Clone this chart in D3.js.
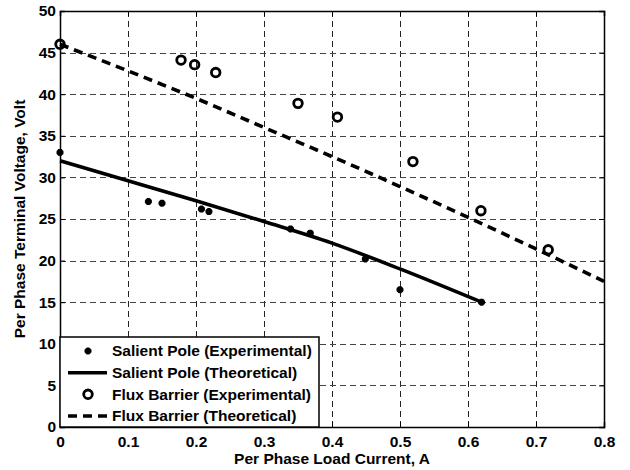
<!DOCTYPE html>
<html><head><meta charset="utf-8">
<script src="https://cdn.jsdelivr.net/npm/d3@7"></script>
<style>body{margin:0;background:#fff}svg{display:block}</style>
</head><body><div id="c"></div>
<script>
const spExpI = [0, 0.13, 0.15, 0.208, 0.219, 0.339, 0.368, 0.449, 0.5, 0.62];
const spExpV = [33.0, 27.1, 26.9, 26.2, 25.9, 23.8, 23.3, 20.2, 16.5, 15.0];
const spThI = [0, 0.1, 0.2, 0.3, 0.4, 0.5, 0.62];
const spThV = [32.0, 29.6, 27.2, 24.7, 22.1, 19.0, 15.0];
const fbExpI = [0, 0.178, 0.198, 0.229, 0.35, 0.408, 0.519, 0.619, 0.718];
const fbExpV = [46.0, 44.1, 43.55, 42.6, 38.9, 37.25, 31.9, 26.0, 21.3];
const fbThI = [0, 0.1, 0.2, 0.3, 0.4, 0.5, 0.6, 0.7, 0.8];
const fbThV = [46.0, 42.8, 39.5, 36.0, 32.5, 28.9, 25.2, 21.4, 17.5];
const xTicks = [0, 0.1, 0.2, 0.3, 0.4, 0.5, 0.6, 0.7, 0.8];
const yTicks = [0, 5, 10, 15, 20, 25, 30, 35, 40, 45, 50];
const legendLabels = ["Salient Pole (Experimental)", "Salient Pole (Theoretical)", "Flux Barrier (Experimental)", "Flux Barrier (Theoretical)"];

const FONT = "'Liberation Sans', Arial, Helvetica, sans-serif";
const W = 630, H = 470;
const L = 60, R = 604, T = 11, B = 427;
const svg = d3.select("#c").append("svg").attr("width", W).attr("height", H);
const x = d3.scaleLinear().domain([0, 0.8]).range([L, R]);
const y = d3.scaleLinear().domain([0, 50]).range([B, T]);

// grid
const g = svg.append("g");
g.selectAll(".vg").data(xTicks.slice(1, -1)).enter().append("line")
  .attr("x1", d => Math.round(x(d)) + 0.5).attr("x2", d => Math.round(x(d)) + 0.5)
  .attr("y1", T).attr("y2", B).attr("stroke", "#222").attr("stroke-width", 1).attr("stroke-dasharray", "6,4");
g.selectAll(".hg").data(yTicks.slice(1, -1)).enter().append("line")
  .attr("y1", d => Math.round(y(d)) + 0.5).attr("y2", d => Math.round(y(d)) + 0.5)
  .attr("x1", L).attr("x2", R).attr("stroke", "#444").attr("stroke-width", 1).attr("stroke-dasharray", "6,4");

// axes
const xa = svg.append("g").attr("transform", `translate(0,${B})`)
  .call(d3.axisBottom(x).tickValues(xTicks).tickSize(-5).tickPadding(9).tickFormat(d => d === 0 ? "0" : d3.format(".1f")(d)));
const xt = svg.append("g").attr("transform", `translate(0,${T})`)
  .call(d3.axisTop(x).tickValues(xTicks).tickSize(-5).tickFormat(""));
const ya = svg.append("g").attr("transform", `translate(${L},0)`)
  .call(d3.axisLeft(y).tickValues(yTicks).tickSize(-5).tickPadding(4));
const yr = svg.append("g").attr("transform", `translate(${R},0)`)
  .call(d3.axisRight(y).tickValues(yTicks).tickSize(-5).tickFormat(""));
[xa, xt, ya, yr].forEach(a => {
  a.select(".domain").attr("stroke", "#000").attr("stroke-width", 1.5);
  a.selectAll(".tick line").attr("stroke", "#000");
  a.selectAll("text").attr("fill", "#000")
    .style("font-family", FONT).style("font-weight", "700").style("font-size", "15.5px");
});

// lines
const line = d3.line().x(d => x(d[0])).y(d => y(d[1])).curve(d3.curveMonotoneX);
svg.append("path").datum(spThI.map((v, i) => [v, spThV[i]])).attr("d", line)
  .attr("fill", "none").attr("stroke", "#000").attr("stroke-width", 3.6);
svg.append("path").datum(fbThI.map((v, i) => [v, fbThV[i]])).attr("d", line)
  .attr("fill", "none").attr("stroke", "#000").attr("stroke-width", 3.6).attr("stroke-dasharray", "9,6");

// markers
function star(sel, cx, cy) {
  const r = 3.5;
  const p = `M${cx - r},${cy}L${cx + r},${cy}M${cx},${cy - r}L${cx},${cy + r}M${cx - r * 0.7},${cy - r * 0.7}L${cx + r * 0.7},${cy + r * 0.7}M${cx - r * 0.7},${cy + r * 0.7}L${cx + r * 0.7},${cy - r * 0.7}`;
  sel.append("path").attr("d", p).attr("stroke", "#000").attr("stroke-width", 2.6).attr("fill", "none");
}
const mk = svg.append("g");
spExpI.forEach((v, i) => star(mk, x(v), y(spExpV[i])));
mk.selectAll(".fb").data(fbExpI.map((v, i) => [v, fbExpV[i]])).enter().append("circle")
  .attr("cx", d => x(d[0])).attr("cy", d => y(d[1])).attr("r", 4.3)
  .attr("fill", "none").attr("stroke", "#000").attr("stroke-width", 2.8);

// legend
const lg = svg.append("g");
lg.append("rect").attr("x", L).attr("y", 337).attr("width", 319 - L).attr("height", B - 337)
  .attr("fill", "#fff").attr("stroke", "#000").attr("stroke-width", 1.5);
const ly = [351, 372.7, 394.3, 416];
star(lg, 88, ly[0]);
lg.append("line").attr("x1", 68).attr("x2", 107).attr("y1", ly[1]).attr("y2", ly[1]).attr("stroke", "#000").attr("stroke-width", 3.6);
lg.append("circle").attr("cx", 88).attr("cy", ly[2]).attr("r", 4.3).attr("fill", "none").attr("stroke", "#000").attr("stroke-width", 2.8);
lg.append("line").attr("x1", 68).attr("x2", 107).attr("y1", ly[3]).attr("y2", ly[3]).attr("stroke", "#000").attr("stroke-width", 3.6).attr("stroke-dasharray", "9,6");
lg.selectAll("text").data(legendLabels).enter().append("text")
  .attr("x", 112).attr("y", (d, i) => ly[i]).attr("dy", "0.35em")
  .style("font-family", FONT).style("font-weight", "700").style("font-size", "15.5px").text(d => d);

// axis labels
svg.append("text").attr("x", (L + R) / 2).attr("y", 464).attr("text-anchor", "middle")
  .style("font-family", FONT).style("font-weight", "700").style("font-size", "15.5px").text("Per Phase Load Current, A");
svg.append("text").attr("transform", `translate(25,219) rotate(-90)`).attr("text-anchor", "middle")
  .style("font-family", FONT).style("font-weight", "700").style("font-size", "15.5px").text("Per Phase Terminal Voltage, Volt");
</script></body></html>
